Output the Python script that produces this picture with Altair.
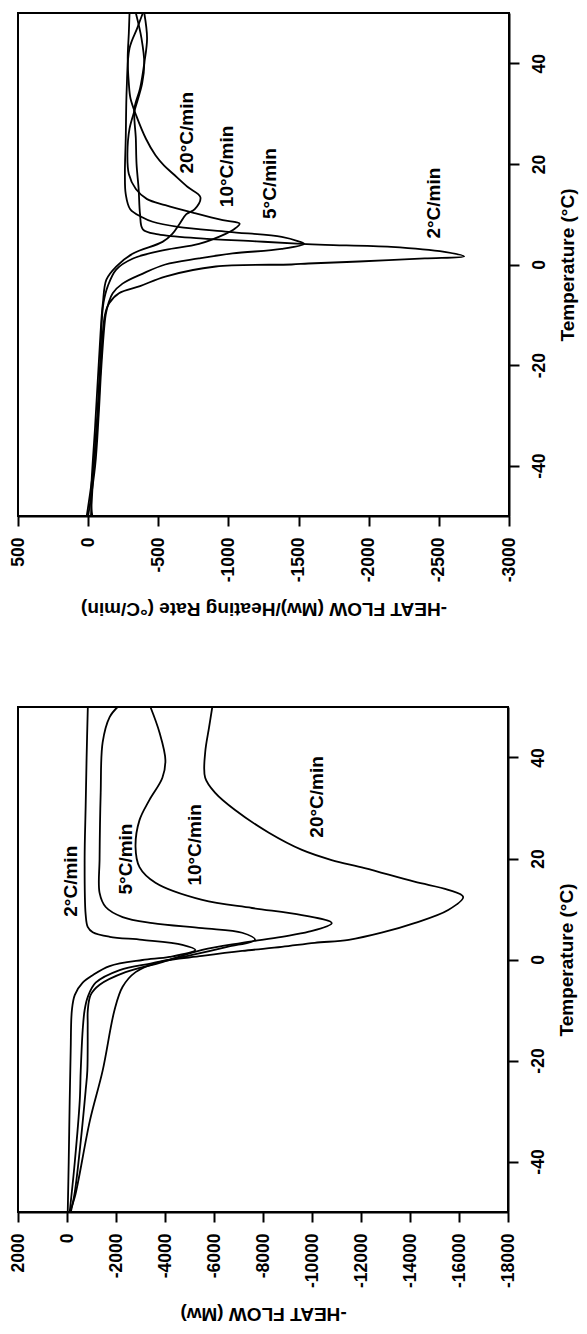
import altair as alt
import pandas as pd

# ---------------- TOP PANEL: -HEAT FLOW (Mw)/Heating Rate ----------------
top_T_2 = [50, 45, 40, 35, 31, 25, 20, 15, 10, 7, 6, 5.2, 4.6, 4.1, 3.9, 3.5, 2.5, 1.6, 1.2, 0.6, 0.2, 0, -0.4, -2.4, -4.3, -5.7, -7.7, -10, -20, -30, -40, -50]
top_hf_2 = [-400, -420, -400, -370, -330, -340, -345, -360, -370, -390, -500, -800, -1200, -1520, -1690, -2160, -2540, -2680, -2400, -1930, -1570, -1450, -910, -550, -370, -220, -150, -120, -90, -70, -40, 10]

top_T_5 = [50, 47, 43, 35, 25, 18, 14, 11, 9.4, 8.5, 7.5, 6.5, 5.5, 4.6, 4.1, 3.1, 2.2, 1.2, 0, -1.8, -3.8, -5.7, -7.7, -10, -20, -30, -40, -50]
top_hf_5 = [-390, -350, -295, -275, -268, -262, -268, -300, -385, -460, -640, -1000, -1380, -1500, -1540, -1380, -1030, -790, -550, -390, -245, -175, -145, -125, -95, -75, -50, 0]

top_T_10 = [50, 45, 40, 36, 31, 27, 22, 18, 15, 13, 11.8, 10.2, 8.8, 8.1, 7, 6.1, 4.1, 2.9, 1.2, -1, -4.3, -7.5, -10, -20, -30, -40, -50]
top_hf_10 = [-340, -380, -400, -385, -335, -295, -280, -290, -340, -420, -550, -760, -960, -1080, -1040, -980, -790, -550, -320, -200, -140, -110, -100, -85, -65, -40, -20]

top_T_20 = [50, 46, 41, 36, 33, 29.6, 25, 21.7, 19.7, 18, 15.4, 13.4, 11, 10, 8, 6.1, 4.5, 2.2, -0.4, -3, -7.7, -10, -20, -32, -47, -50]
top_hf_20 = [-295, -290, -282, -290, -302, -343, -412, -480, -540, -607, -710, -800, -760, -700, -650, -600, -530, -320, -200, -130, -105, -97, -75, -50, -20, -30]

top_labels = ["20°C/min", "10°C/min", "5°C/min", "2°C/min"]
top_label_hf = [-707, -991, -1296, -2468]
top_label_T = [26.2, 19.5, 16.1, 12.2]

top_hf_ticks = [500, 0, -500, -1000, -1500, -2000, -2500, -3000]

# ---------------- BOTTOM PANEL: -HEAT FLOW (Mw) ----------------
bot_T_2 = [50, 40, 30, 20, 9, 6.4, 5.4, 4.5, 3.9, 2.9, 1.9, 0.5, -0.1, -1.3, -3.1, -4.6, -7, -10, -18, -28, -40, -50]
bot_hf_2 = [-850, -800, -760, -720, -760, -850, -1050, -1740, -3080, -4710, -5240, -4180, -3080, -1740, -1050, -640, -320, -200, -150, -110, -70, -30]

bot_T_5 = [50, 48, 43, 33, 20, 13.2, 10.4, 8.4, 7.2, 6.2, 5.3, 3.9, 2.5, 0.9, -0.7, -2.1, -4.6, -7.4, -10, -14, -22, -28, -40, -50]
bot_hf_5 = [-2065, -1740, -1455, -1375, -1330, -1330, -1580, -2270, -3490, -5520, -7150, -7675, -6540, -5110, -3490, -2150, -1170, -850, -720, -640, -560, -520, -320, -110]

bot_T_10 = [50, 45, 39.5, 36, 31.6, 27.6, 22.3, 18.3, 15.2, 11.8, 10.2, 8.8, 7.2, 5.5, 4.5, 3.3, 1.9, -0.5, -2.5, -5, -7, -10, -13, -22, -26, -36, -46, -50]
bot_hf_10 = [-3406, -3772, -4016, -3894, -3366, -2959, -2797, -2959, -3610, -5520, -7550, -9585, -10805, -9870, -8770, -7146, -5520, -3894, -2390, -1333, -967, -850, -845, -830, -760, -560, -320, -155]

bot_T_20 = [50, 46, 41, 36, 33, 29.6, 25.1, 21.7, 19.7, 18.1, 15.4, 13.8, 12.4, 9.8, 7.2, 5.3, 3.9, 3.3, 2.5, 1.7, 0.7, -0.5, -2.5, -5.4, -10, -22, -32, -47, -50]
bot_hf_20 = [-5930, -5800, -5640, -5640, -6050, -6860, -8240, -9590, -10800, -12150, -14180, -15560, -16170, -15560, -14180, -12840, -11500, -10110, -8770, -7150, -5520, -3770, -2800, -2270, -1940, -1455, -930, -320, -115]

bot_labels = ["2°C/min", "5°C/min", "10°C/min", "20°C/min"]
bot_label_hf = [-154, -2390, -5236, -10195]
bot_label_T = [15.5, 19.9, 22.7, 32.2]

bot_hf_ticks = [2000, 0, -2000, -4000, -6000, -8000, -10000, -12000, -14000, -16000, -18000]

temp_ticks = [-40, -20, 0, 20, 40]

FONT = "Liberation Sans"


def curves(pairs):
    frames = []
    for name, T, hf in pairs:
        frames.append(pd.DataFrame({"T": T, "hf": hf, "rate": name, "idx": list(range(len(T)))}))
    return pd.concat(frames, ignore_index=True)


top_df = curves([("2", top_T_2, top_hf_2), ("5", top_T_5, top_hf_5),
                 ("10", top_T_10, top_hf_10), ("20", top_T_20, top_hf_20)])
bot_df = curves([("2", bot_T_2, bot_hf_2), ("5", bot_T_5, bot_hf_5),
                 ("10", bot_T_10, bot_hf_10), ("20", bot_T_20, bot_hf_20)])
top_ann = pd.DataFrame({"hf": top_label_hf, "T": top_label_T, "text": top_labels})
bot_ann = pd.DataFrame({"hf": bot_label_hf, "T": bot_label_T, "text": bot_labels})


def panel(df, ann, xdomain, xticks, xtitle, w, h, xtitle_pad):
    xscale = alt.Scale(domain=xdomain, reverse=True, nice=False, zero=False)
    yscale = alt.Scale(domain=[-50, 50], nice=False, zero=False)
    xaxis = alt.Axis(values=xticks, title=xtitle, orient="bottom", labelAngle=270,
                     labelAlign="right", labelBaseline="middle", labelPadding=11,
                     tickSize=10, titleAngle=180, titleBaseline="bottom",
                     titlePadding=xtitle_pad, grid=False, labelExpr="'' + datum.value")
    yaxis = alt.Axis(values=temp_ticks, title="Temperature (°C)", orient="right",
                     labelAngle=270, labelAlign="center", labelBaseline="top",
                     labelPadding=11, tickSize=10, titleAngle=270, titleBaseline="top",
                     titlePadding=11, grid=False, labelExpr="'' + datum.value")
    lines = alt.Chart(df).mark_line(color="black", strokeWidth=1.8,
                                    interpolate="catmull-rom").encode(
        x=alt.X("hf:Q", scale=xscale, axis=xaxis),
        y=alt.Y("T:Q", scale=yscale, axis=yaxis),
        detail="rate:N",
        order="idx:Q",
    )
    texts = alt.Chart(ann).mark_text(angle=270, font=FONT, fontSize=19, fontWeight="bold",
                                     color="black", align="center", baseline="middle").encode(
        x=alt.X("hf:Q", scale=xscale),
        y=alt.Y("T:Q", scale=yscale),
        text="text:N",
    )
    return alt.layer(lines, texts).properties(width=w, height=h)


top = panel(top_df, top_ann, [-3000, 500], top_hf_ticks,
            "-HEAT FLOW (Mw)/Heating Rate (°C/min)", 491, 503, 17)
bottom = panel(bot_df, bot_ann, [-18000, 2000], bot_hf_ticks,
               "-HEAT FLOW (Mw)", 490, 505, 16)

chart = alt.vconcat(top, bottom, spacing=83).properties(
    padding={"left": 0, "top": 0, "right": 0, "bottom": 0}
).configure_view(
    stroke="black", strokeWidth=2
).configure_axis(
    labelFont=FONT, labelFontSize=17.5, labelFontWeight="bold", labelColor="black",
    titleFont=FONT, titleFontSize=19, titleFontWeight="bold", titleColor="black",
    domainColor="black", domainWidth=2, tickColor="black", tickWidth=2,
)

chart.save("out.html", embed_options={"renderer": "svg", "actions": False})
